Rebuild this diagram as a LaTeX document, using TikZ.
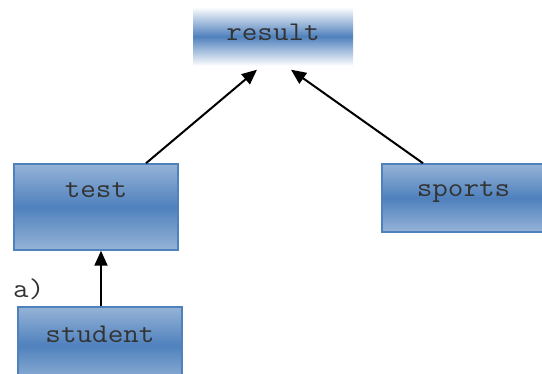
\documentclass[tikz,border=0pt]{standalone}
\usepackage{fontspec}
\usepackage{graphicx}
\usetikzlibrary{arrows.meta}
\definecolor{bmid}{RGB}{79,129,189}
\definecolor{blight}{RGB}{149,179,215}
\newcommand\widetxt[1]{\scalebox{1.12}[1]{#1}}
\tikzset{
  box/.style={rectangle, draw=bmid, line width=1.5pt, top color=blight, bottom color=blight, middle color=bmid, inner sep=0pt},
  fadebox/.style={rectangle, top color=white, bottom color=white, middle color=bmid, inner sep=0pt},
  txt/.style={font=\ttfamily\fontsize{27}{29}\selectfont, inner sep=0pt, text=black!80},
  arr/.style={line width=2pt, -{Triangle[length=15pt,width=13pt]}}
}
\begin{document}
\begin{tikzpicture}[x=1pt,y=1pt]
\useasboundingbox (0,0) rectangle (542,374);
\clip (0,0) rectangle (542,374);
\node[fadebox, minimum width=160pt, minimum height=59pt] (result) at (273,337.5) {};
\node[txt] (resulttxt) at ([yshift=-26pt]result.north) {\widetxt{result}};
\node[box, minimum width=164pt, minimum height=86pt] (test) at (96,167) {};
\node[txt] (testtxt) at ([yshift=-27pt]test.north) {\widetxt{test}};
\node[box, minimum width=163pt, minimum height=68pt] (sports) at (463.5,176) {};
\node[txt] (sportstxt) at ([yshift=-29pt]sports.north) {\widetxt{sports}};
\node[box, minimum width=164pt, minimum height=77pt] (student) at (100,28.5) {};
\node[txt] (studenttxt) at ([yshift=-28pt]student.north) {\widetxt{student}};
\node[txt, anchor=west] (lbl) at (13,85) {\widetxt{a)}};
\draw[arr] ([xshift=50pt]test.north) -- ([xshift=-16pt,yshift=-3.5pt]result.south);
\draw[arr] ([xshift=-40.5pt]sports.north) -- ([xshift=18pt,yshift=-3.5pt]result.south);
\draw[arr] ([xshift=1pt]student.north) -- ([xshift=1pt]student.north |- test.south);
\end{tikzpicture}
\end{document}
